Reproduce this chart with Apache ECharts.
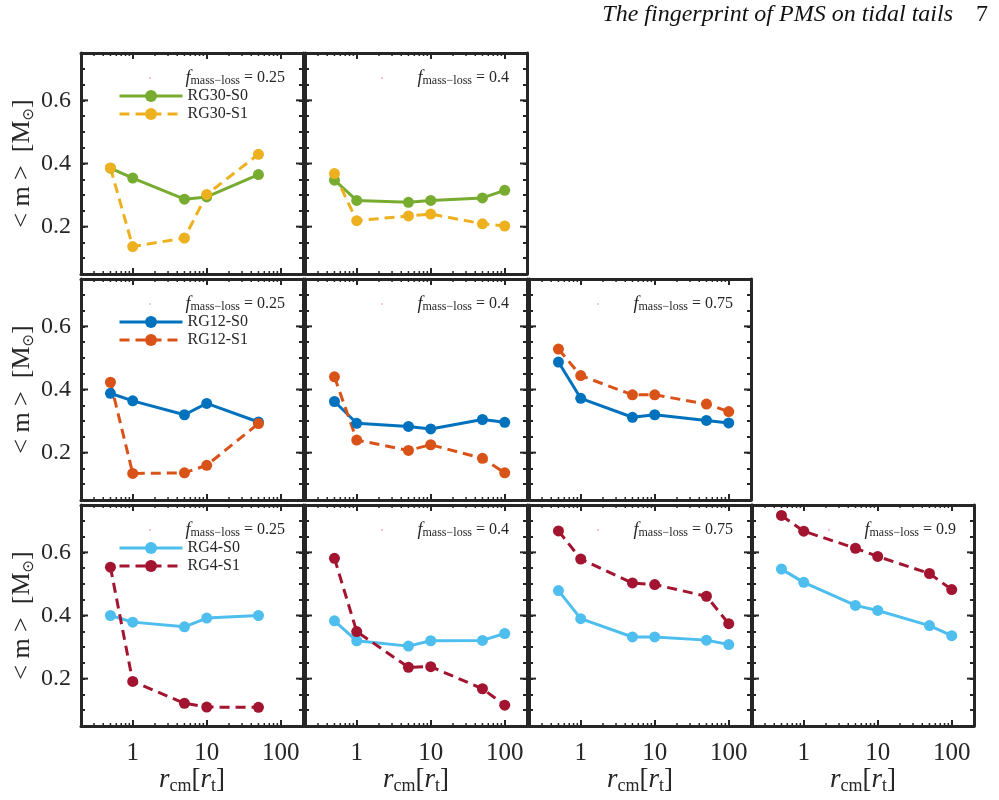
<!DOCTYPE html>
<html>
<head>
<meta charset="utf-8">
<script src="https://cdn.jsdelivr.net/npm/echarts@6/dist/echarts.min.js"></script>
<style>
html, body { margin: 0; padding: 0; background: #fff; }
#chart { width: 999px; height: 800px; }
</style>
</head>
<body>
<div id="chart"></div>
<script>
// r_cm positions in units of r_t
const rFull = [0.5, 1, 5, 10, 50, 100];
const rShort = [0.5, 1, 5, 10, 50];

// <m> [Msun]
const rg30_s0_f025 = [0.385, 0.354, 0.287, 0.294, 0.365];
const rg30_s1_f025 = [0.386, 0.137, 0.164, 0.302, 0.429];
const rg30_s0_f040 = [0.347, 0.283, 0.277, 0.283, 0.291, 0.315];
const rg30_s1_f040 = [0.368, 0.219, 0.234, 0.240, 0.209, 0.202];

const rg12_s0_f025 = [0.388, 0.364, 0.320, 0.356, 0.297];
const rg12_s1_f025 = [0.423, 0.134, 0.136, 0.160, 0.292];
const rg12_s0_f040 = [0.362, 0.293, 0.283, 0.275, 0.305, 0.296];
const rg12_s1_f040 = [0.440, 0.240, 0.207, 0.225, 0.182, 0.136];
const rg12_s0_f075 = [0.487, 0.372, 0.312, 0.320, 0.302, 0.294];
const rg12_s1_f075 = [0.528, 0.444, 0.383, 0.383, 0.354, 0.330];

const rg4_s0_f025 = [0.400, 0.379, 0.364, 0.392, 0.400];
const rg4_s1_f025 = [0.553, 0.191, 0.122, 0.110, 0.109];
const rg4_s0_f040 = [0.383, 0.320, 0.303, 0.320, 0.321, 0.343];
const rg4_s1_f040 = [0.581, 0.349, 0.236, 0.238, 0.168, 0.116];
const rg4_s0_f075 = [0.479, 0.390, 0.332, 0.332, 0.322, 0.308];
const rg4_s1_f075 = [0.668, 0.579, 0.503, 0.498, 0.461, 0.374];
const rg4_s0_f090 = [0.547, 0.505, 0.432, 0.416, 0.368, 0.336];
const rg4_s1_f090 = [0.717, 0.667, 0.613, 0.587, 0.533, 0.482];

// ticks
const xTickLabels = [1, 10, 100];
const xMinorTicks = [0.3, 0.4, 0.5, 0.6, 0.7, 0.8, 0.9, 2, 3, 4, 5, 6, 7, 8, 9, 20, 30, 40, 50, 60, 70, 80, 90];
const yTickLabels = [0.2, 0.4, 0.6];

const green = '#77AC30', yellow = '#EDB120';
const blue = '#0072BD', orange = '#D95319';
const cyan = '#4DBEEE', darkred = '#A2142F';

const panels = [
  { row: 0, col: 0, f: '0.25', rg: 'RG30', x: rShort, s0: rg30_s0_f025, s1: rg30_s1_f025, c0: green, c1: yellow },
  { row: 0, col: 1, f: '0.4',  rg: 'RG30', x: rFull,  s0: rg30_s0_f040, s1: rg30_s1_f040, c0: green, c1: yellow },
  { row: 1, col: 0, f: '0.25', rg: 'RG12', x: rShort, s0: rg12_s0_f025, s1: rg12_s1_f025, c0: blue, c1: orange },
  { row: 1, col: 1, f: '0.4',  rg: 'RG12', x: rFull,  s0: rg12_s0_f040, s1: rg12_s1_f040, c0: blue, c1: orange },
  { row: 1, col: 2, f: '0.75', rg: 'RG12', x: rFull,  s0: rg12_s0_f075, s1: rg12_s1_f075, c0: blue, c1: orange },
  { row: 2, col: 0, f: '0.25', rg: 'RG4',  x: rShort, s0: rg4_s0_f025, s1: rg4_s1_f025, c0: cyan, c1: darkred },
  { row: 2, col: 1, f: '0.4',  rg: 'RG4',  x: rFull,  s0: rg4_s0_f040, s1: rg4_s1_f040, c0: cyan, c1: darkred },
  { row: 2, col: 2, f: '0.75', rg: 'RG4',  x: rFull,  s0: rg4_s0_f075, s1: rg4_s1_f075, c0: cyan, c1: darkred },
  { row: 2, col: 3, f: '0.9',  rg: 'RG4',  x: rFull,  s0: rg4_s0_f090, s1: rg4_s1_f090, c0: cyan, c1: darkred }
];

const lefts = [81, 305, 529, 752];
const tops = [53, 279, 505];
const W = 222, H = 221;
const font = 'Liberation Serif';
const ink = '#262626';

const grid = [], xAxis = [], yAxis = [], series = [], legend = [], graphic = [];

const axisLine = { show: true, onZero: false, lineStyle: { color: ink, width: 3 } };

panels.forEach((p, i) => {
  const left = lefts[p.col], top = tops[p.row];
  const isBottom = p.row === 2, isLeft = p.col === 0;
  grid.push({ left: left, top: top, width: W, height: H, outerBoundsMode: 'none' });

  const xBase = {
    type: 'log', logBase: 10, min: 0.2, max: 200, gridIndex: i,
    axisLine: axisLine,
    axisTick: { show: true, inside: true, length: 6, lineStyle: { color: ink, width: 2 } },
    splitLine: { show: false }
  };
  xAxis.push(Object.assign({}, xBase, {
    position: 'bottom',
    axisLabel: {
      show: isBottom, margin: 15, fontFamily: font, fontSize: 25, color: ink,
      formatter: v => {
        const t = xTickLabels.find(t => Math.abs(t - v) < 1e-6 * t);
        return t ? String(t) : '';
      }
    },
    name: isBottom ? '{i|r}{s|cm}{n|[}{i|r}{s|t}{n|]}' : '',
    nameLocation: 'middle', nameGap: 39,
    nameTextStyle: {
      rich: {
        i: { fontFamily: font, fontStyle: 'italic', fontSize: 27, color: ink, lineHeight: 30, verticalAlign: 'middle' },
        n: { fontFamily: font, fontSize: 27, color: ink, lineHeight: 30, verticalAlign: 'middle' },
        s: { fontFamily: font, fontSize: 18, color: ink, lineHeight: 17, verticalAlign: 'bottom' }
      }
    }
  }));
  xAxis.push(Object.assign({}, xBase, { position: 'top', axisLabel: { show: false } }));

  const yBase = {
    type: 'value', min: 0.05, max: 0.75, interval: 0.05, gridIndex: i,
    axisLine: axisLine,
    axisTick: { show: true, inside: true, length: 4, lineStyle: { color: ink, width: 2 } },
    splitLine: { show: false }
  };
  yAxis.push(Object.assign({}, yBase, {
    position: 'left',
    axisLabel: {
      show: isLeft, margin: 10, fontFamily: font, fontSize: 24, color: ink,
      formatter: v => {
        const t = yTickLabels.find(t => Math.abs(t - v) < 1e-6);
        return t ? t.toFixed(1) : '';
      }
    },
    name: isLeft ? '{n|< m >  [M}{s|\u2299}{n|]}' : '',
    nameLocation: 'middle', nameGap: 43, nameRotate: 90,
    nameTextStyle: {
      rich: {
        n: { fontFamily: font, fontSize: 26, color: ink, lineHeight: 30, verticalAlign: 'middle' },
        s: { fontFamily: 'DejaVu Sans', fontSize: 15, color: ink, lineHeight: 16, verticalAlign: 'bottom' }
      }
    }
  }));
  yAxis.push(Object.assign({}, yBase, { position: 'right', axisLabel: { show: false } }));

  // log minor ticks on bottom and top
  series.push({
    type: 'custom', xAxisIndex: 2 * i, yAxisIndex: 2 * i, silent: true, clip: false, z: 1,
    data: xMinorTicks.map(v => [v, 0.4]),
    renderItem: (params, api) => {
      const cs = params.coordSys;
      const px = api.coord([api.value(0), api.value(1)])[0];
      const st = { stroke: ink, lineWidth: 1.5 };
      return { type: 'group', children: [
        { type: 'line', shape: { x1: px, y1: cs.y + cs.height, x2: px, y2: cs.y + cs.height - 3 }, style: st },
        { type: 'line', shape: { x1: px, y1: cs.y, x2: px, y2: cs.y + 3 }, style: st }
      ] };
    }
  });
  // longer major y ticks on left and right
  series.push({
    type: 'custom', xAxisIndex: 2 * i, yAxisIndex: 2 * i, silent: true, clip: false, z: 1,
    data: yTickLabels.map(v => [1, v]),
    renderItem: (params, api) => {
      const cs = params.coordSys;
      const py = api.coord([api.value(0), api.value(1)])[1];
      const st = { stroke: ink, lineWidth: 2 };
      return { type: 'group', children: [
        { type: 'line', shape: { x1: cs.x, y1: py, x2: cs.x + 7, y2: py }, style: st },
        { type: 'line', shape: { x1: cs.x + cs.width - 7, y1: py, x2: cs.x + cs.width, y2: py }, style: st }
      ] };
    }
  });

  series.push({
    type: 'line', name: p.rg + '-S0', xAxisIndex: 2 * i, yAxisIndex: 2 * i,
    data: p.x.map((r, k) => [r, p.s0[k]]),
    symbol: 'circle', symbolSize: 11, z: 3,
    lineStyle: { width: 3, color: p.c0 }, itemStyle: { color: p.c0 }
  });
  series.push({
    type: 'line', name: p.rg + '-S1', xAxisIndex: 2 * i, yAxisIndex: 2 * i,
    data: p.x.map((r, k) => [r, p.s1[k]]),
    symbol: 'circle', symbolSize: 11, z: 3,
    lineStyle: { width: 3, color: p.c1, type: [10, 6] }, itemStyle: { color: p.c1 }
  });

  if (isLeft) {
    legend.push({
      orient: 'vertical', left: left + 37, top: top + 35, padding: 0,
      itemWidth: 63, itemHeight: 15, itemGap: 2, selectedMode: false,
      lineStyle: { width: 3 },
      data: [p.rg + '-S0', p.rg + '-S1'],
      textStyle: { fontFamily: font, fontSize: 16, color: ink }
    });
  }

  graphic.push({
    type: 'text', x: left + W - 18, y: top + 25,
    style: {
      text: '{i|f}{s|mass\u2212loss}{n| = ' + p.f + '}',
      align: 'right', verticalAlign: 'middle',
      rich: {
        i: { fontFamily: font, fontStyle: 'italic', fontSize: 18, fill: ink, lineHeight: 18, verticalAlign: 'middle' },
        s: { fontFamily: font, fontSize: 12, fill: ink, lineHeight: 11, verticalAlign: 'bottom' },
        n: { fontFamily: font, fontSize: 16, fill: ink, lineHeight: 18, verticalAlign: 'middle' }
      }
    }
  });
  graphic.push({
    type: 'circle', shape: { cx: left + (p.col % 2 === 1 ? 77 : 69), cy: top + 25, r: 0.7 },
    style: { fill: '#e8606a' }
  });
});

graphic.push({
  type: 'text', x: 953, y: 15,
  style: { text: 'The fingerprint of PMS on tidal tails', align: 'right', verticalAlign: 'middle',
    font: 'italic 24px "Liberation Serif"', fill: '#111' }
});
graphic.push({
  type: 'text', x: 976, y: 15,
  style: { text: '7', align: 'left', verticalAlign: 'middle', font: '24px "Liberation Serif"', fill: '#111' }
});

const chart = echarts.init(document.getElementById('chart'));
chart.setOption({
  animation: false,
  backgroundColor: '#fff',
  grid: grid,
  xAxis: xAxis,
  yAxis: yAxis,
  legend: legend,
  graphic: graphic,
  series: series
});
</script>
</body>
</html>
